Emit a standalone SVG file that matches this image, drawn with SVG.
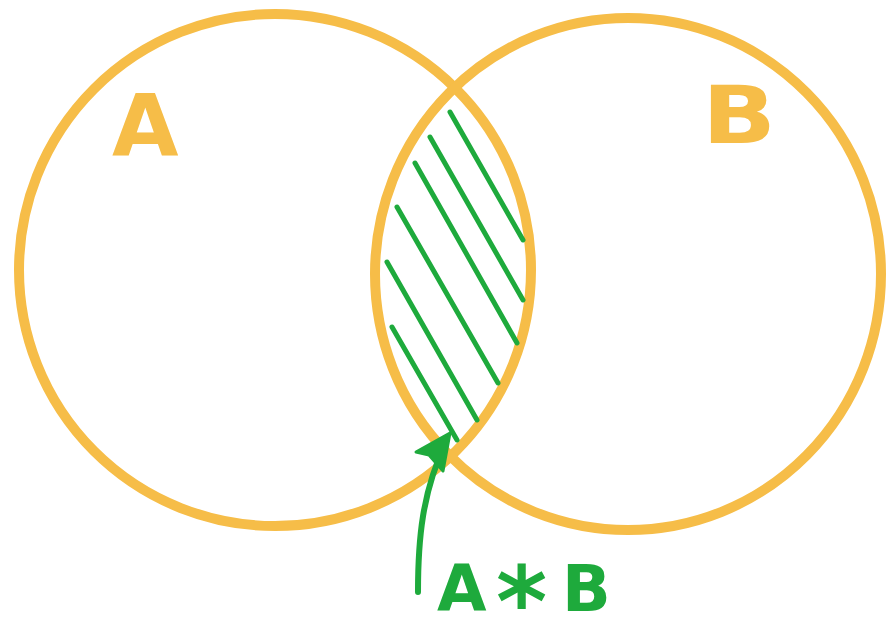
<svg xmlns="http://www.w3.org/2000/svg" width="889" height="618" viewBox="0 0 889 618">
<style>
.set{fill:none;stroke:#F6BD48;stroke-width:10}
.hatch{stroke:#1EAA3C;stroke-width:5;stroke-linecap:round;fill:none}
.lbl{font-family:"DejaVu Sans","Liberation Sans",sans-serif;font-weight:bold}
.orange{fill:#F6BD48}
.green{fill:#1EAA3C}
</style>
<rect width="889" height="618" fill="#ffffff"/>
<g id="setA">
<ellipse class="set" cx="275" cy="270" rx="256" ry="256"/>
<text class="lbl orange" x="112" y="155" font-size="86">A</text>
</g>
<g id="setB">
<ellipse class="set" cx="628" cy="274" rx="253" ry="256"/>
<text class="lbl orange" x="702" y="143" font-size="80" textLength="74" lengthAdjust="spacingAndGlyphs">B</text>
</g>
<g id="intersection">
<line class="hatch" x1="450" y1="112" x2="523" y2="240"/>
<line class="hatch" x1="430" y1="137" x2="523" y2="300"/>
<line class="hatch" x1="415" y1="163" x2="517" y2="343"/>
<line class="hatch" x1="397" y1="207" x2="498" y2="383"/>
<line class="hatch" x1="387" y1="262" x2="477" y2="420"/>
<line class="hatch" x1="392" y1="327" x2="457" y2="440"/>
</g>
<g id="connectors">
<path d="M418,592 C418,540 422,492 446,442" fill="none" stroke="#1EAA3C" stroke-width="6" stroke-linecap="round"/>
<path d="M450,433 L416,452 L429,455 L443,471 Z" fill="#1EAA3C" stroke="#1EAA3C" stroke-width="3" stroke-linejoin="round"/>
</g>
<g id="label-AB">
<text class="lbl green" font-size="64"><tspan x="437" y="611">A</tspan><tspan x="496" y="636" font-size="98">*</tspan><tspan x="562" y="611">B</tspan></text>
</g>
</svg>
